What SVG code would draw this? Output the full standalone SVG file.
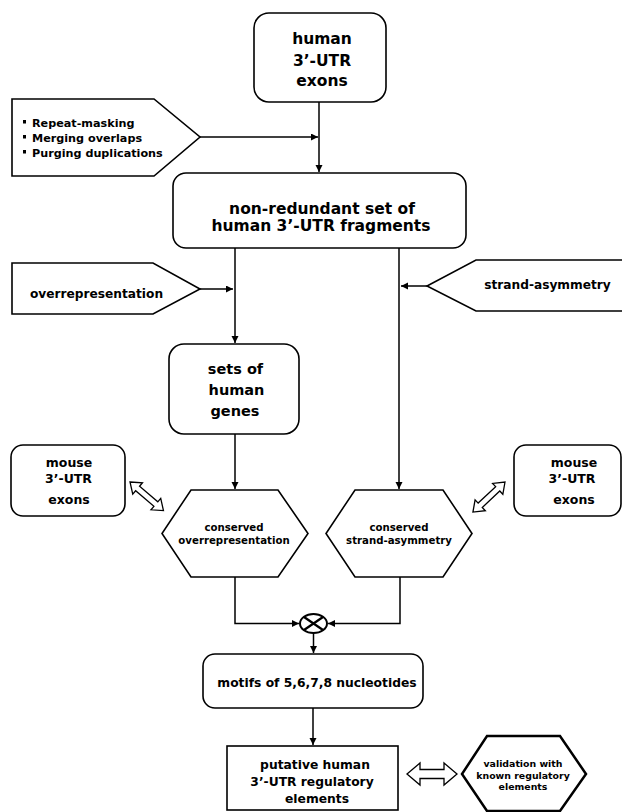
<svg xmlns="http://www.w3.org/2000/svg" width="622" height="812" viewBox="0 0 622 812">
<style>
.box{fill:#fff;stroke:#000;stroke-width:1.6}
.t{font-family:"DejaVu Sans","Liberation Sans",sans-serif;font-weight:bold;fill:#000;text-anchor:middle}
.l{font-family:"DejaVu Sans","Liberation Sans",sans-serif;font-weight:bold;fill:#000}
.c{fill:none;stroke:#000;stroke-width:1.5}
.da{fill:#fff;stroke:#000;stroke-width:1.3;stroke-linejoin:miter}
</style>
<defs>
<marker id="ah" markerUnits="userSpaceOnUse" markerWidth="8" markerHeight="8" refX="7" refY="3.5" orient="auto">
<path d="M0,0 L7,3.5 L0,7 z" fill="#000"/>
</marker>
<path id="dbl" d="M0,0 L10,-7.5 L10,-3 L34,-3 L34,-7.5 L44,0 L34,7.5 L34,3 L10,3 L10,7.5 z"/>
</defs>
<rect width="622" height="812" fill="#fff"/>

<g id="connectors">
<path class="c" d="M319,102 V172" marker-end="url(#ah)"/>
<path class="c" d="M200,137 H318" marker-end="url(#ah)"/>
<path class="c" d="M235,248 V343" marker-end="url(#ah)"/>
<path class="c" d="M200,289 H233" marker-end="url(#ah)"/>
<path class="c" d="M399,248 V489" marker-end="url(#ah)"/>
<path class="c" d="M427,286 H401" marker-end="url(#ah)"/>
<path class="c" d="M235,434 V489" marker-end="url(#ah)"/>
<path class="c" d="M235,577 V623.5 H299" marker-end="url(#ah)"/>
<path class="c" d="M400,577 V623.5 H328" marker-end="url(#ah)"/>
<path class="c" d="M313.5,633 V653" marker-end="url(#ah)"/>
<path class="c" d="M313,708 V745" marker-end="url(#ah)"/>
<use href="#dbl" class="da" transform="translate(130,482) rotate(40.5)"/>
<use href="#dbl" class="da" transform="translate(505,482) rotate(136.8)"/>
<path class="da" d="M407,774 L420,763 L420,769.5 L444,769.5 L444,763 L457,774 L444,785 L444,778.5 L420,778.5 L420,785 z"/>
</g>

<g id="human-exons">
<rect class="box" x="254" y="13" width="132" height="89" rx="15"/>
<text class="t" x="322" y="44" font-size="15.5">human</text>
<text class="t" x="322" y="65.5" font-size="15.5">3’-UTR</text>
<text class="t" x="322" y="86" font-size="15.5">exons</text>
</g>

<g id="preprocessing">
<polygon class="box" points="12,99 154,99 200,137 154,176 12,176"/>
<rect x="23" y="120" width="3" height="3.5" fill="#000"/>
<rect x="23" y="135" width="3" height="3.5" fill="#000"/>
<rect x="23" y="150" width="3" height="3.5" fill="#000"/>
<text class="l" x="32" y="127" font-size="11.2">Repeat-masking</text>
<text class="l" x="32" y="142" font-size="11.2">Merging overlaps</text>
<text class="l" x="32" y="157" font-size="11.2">Purging duplications</text>
</g>

<g id="nonredundant">
<rect class="box" x="173" y="173" width="293" height="75" rx="13"/>
<text class="t" x="322" y="214" font-size="15.5">non-redundant set of</text>
<text class="t" x="321" y="231" font-size="15.5">human 3’-UTR fragments</text>
</g>

<g id="overrepresentation">
<polygon class="box" points="12,263 153,263 200,289 153,314 12,314"/>
<text class="t" x="96.5" y="298" font-size="12.2">overrepresentation</text>
</g>

<g id="strand-asymmetry">
<polygon class="box" points="624,260 476,260 427,286 476,311 624,311"/>
<text class="t" x="547.5" y="289" font-size="12.2">strand-asymmetry</text>
</g>

<g id="human-genes">
<rect class="box" x="169" y="344" width="130" height="90" rx="15"/>
<text class="t" x="235.5" y="374" font-size="14.5">sets of</text>
<text class="t" x="236.5" y="395" font-size="14.5">human</text>
<text class="t" x="235" y="416" font-size="14.5">genes</text>
</g>

<g id="mouse-left">
<rect class="box" x="11" y="445" width="114" height="71" rx="12"/>
<text class="t" x="69" y="467" font-size="12.5">mouse</text>
<text class="t" x="68.5" y="483" font-size="12.5">3’-UTR</text>
<text class="t" x="69" y="504" font-size="12.5">exons</text>
</g>

<g id="mouse-right">
<rect class="box" x="514" y="445" width="107" height="71" rx="12"/>
<text class="t" x="574" y="467" font-size="12.5">mouse</text>
<text class="t" x="572" y="483" font-size="12.5">3’-UTR</text>
<text class="t" x="574" y="504" font-size="12.5">exons</text>
</g>

<g id="conserved-over">
<polygon class="box" points="191,490 278,490 308,533.5 278,577 191,577 162,533.5"/>
<text class="t" x="234" y="531" font-size="10.2">conserved</text>
<text class="t" x="234" y="544" font-size="10.2">overrepresentation</text>
</g>

<g id="conserved-strand">
<polygon class="box" points="355,490 443,490 472,533.5 443,577 355,577 326,533.5"/>
<text class="t" x="399" y="531" font-size="10.2">conserved</text>
<text class="t" x="399" y="544" font-size="10.2">strand-asymmetry</text>
</g>

<g id="intersection">
<ellipse cx="313.5" cy="623.5" rx="13.5" ry="9.5" fill="#fff" stroke="#000" stroke-width="2"/>
<path d="M304,617 L323,630 M323,617 L304,630" stroke="#000" stroke-width="2.2"/>
</g>

<g id="motifs">
<rect class="box" x="203" y="654" width="220" height="54" rx="12"/>
<text class="t" x="317" y="687" font-size="12.3">motifs of 5,6,7,8 nucleotides</text>
</g>

<g id="putative">
<rect class="box" x="227" y="746" width="171" height="64"/>
<text class="t" x="315" y="769" font-size="12.3">putative human</text>
<text class="t" x="312" y="786" font-size="12.3">3’-UTR regulatory</text>
<text class="t" x="317" y="803" font-size="12.3">elements</text>
</g>

<g id="validation">
<polygon points="487,736 560,736 586,774 560,811 487,811 462,774" fill="#fff" stroke="#000" stroke-width="2.5"/>
<text class="t" x="523" y="767" font-size="9.4">validation with</text>
<text class="t" x="523" y="778.5" font-size="9.4">known regulatory</text>
<text class="t" x="523" y="790" font-size="9.4">elements</text>
</g>
</svg>
